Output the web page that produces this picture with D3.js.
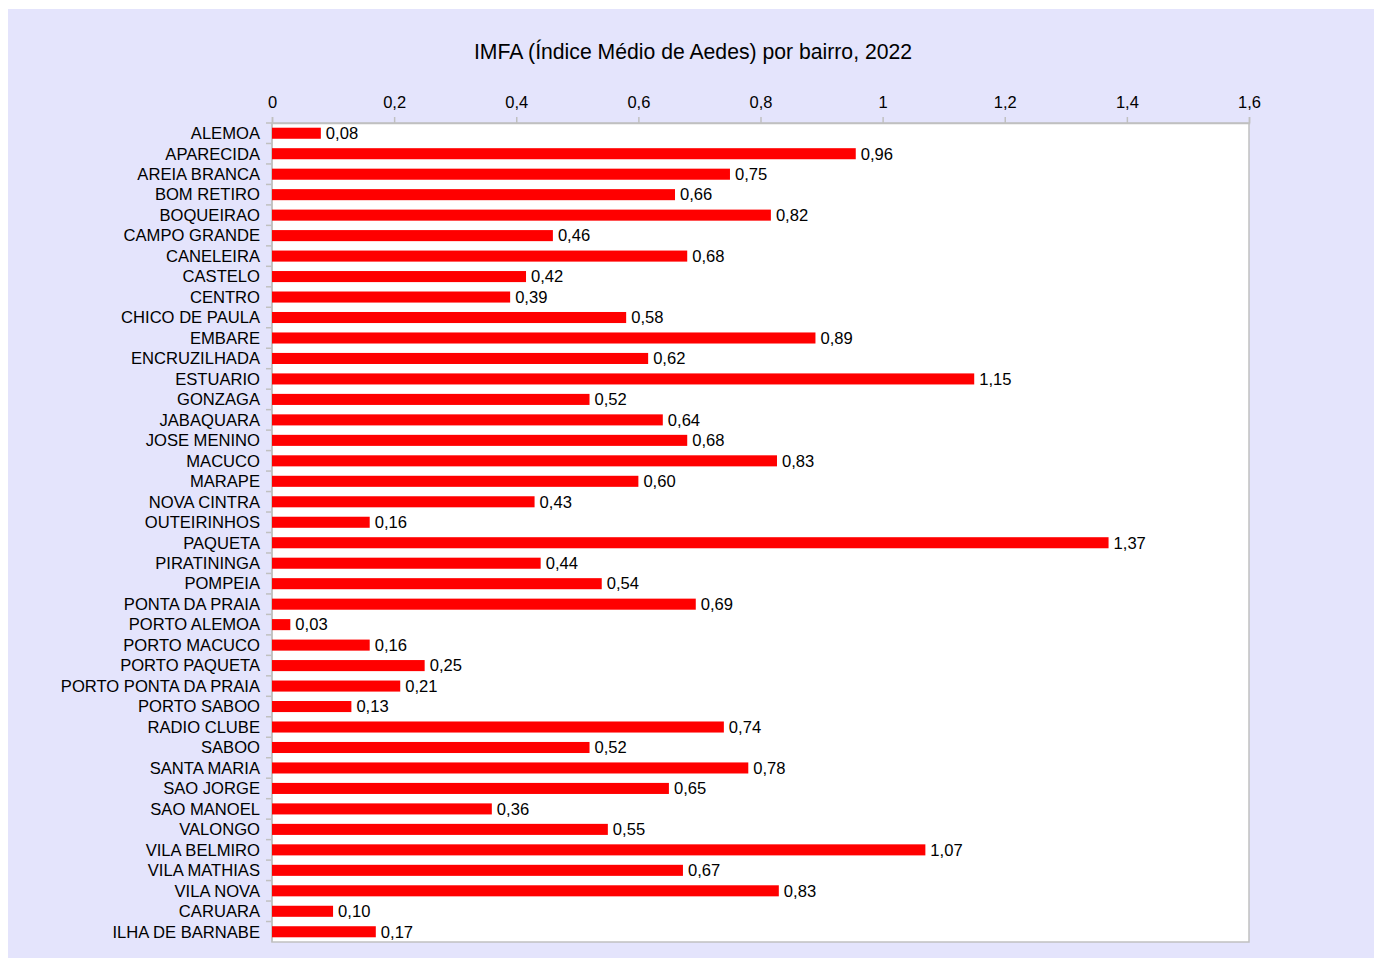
<!DOCTYPE html>
<html>
<head>
<meta charset="utf-8">
<script src="https://cdn.jsdelivr.net/npm/d3@7"></script>
<style>
  body { margin: 0; background: #ffffff; }
  svg { display: block; }
  text { font-family: "Liberation Sans", Arial, sans-serif; fill: #000; }
</style>
</head>
<body>
<div id="chart"></div>
<script>
const bairros = [
  "ALEMOA", "APARECIDA", "AREIA BRANCA", "BOM RETIRO", "BOQUEIRAO",
  "CAMPO GRANDE", "CANELEIRA", "CASTELO", "CENTRO", "CHICO DE PAULA",
  "EMBARE", "ENCRUZILHADA", "ESTUARIO", "GONZAGA", "JABAQUARA",
  "JOSE MENINO", "MACUCO", "MARAPE", "NOVA CINTRA", "OUTEIRINHOS",
  "PAQUETA", "PIRATININGA", "POMPEIA", "PONTA DA PRAIA", "PORTO ALEMOA",
  "PORTO MACUCO", "PORTO PAQUETA", "PORTO PONTA DA PRAIA", "PORTO SABOO", "RADIO CLUBE",
  "SABOO", "SANTA MARIA", "SAO JORGE", "SAO MANOEL", "VALONGO",
  "VILA BELMIRO", "VILA MATHIAS", "VILA NOVA", "CARUARA", "ILHA DE BARNABE"
];
const imfa = [
  0.08, 0.956, 0.75, 0.66, 0.817,
  0.46, 0.68, 0.416, 0.39, 0.58,
  0.89, 0.616, 1.15, 0.52, 0.64,
  0.68, 0.827, 0.60, 0.43, 0.16,
  1.37, 0.44, 0.54, 0.694, 0.03,
  0.16, 0.25, 0.21, 0.13, 0.74,
  0.52, 0.78, 0.65, 0.36, 0.55,
  1.07, 0.673, 0.83, 0.10, 0.17
];
const xTicks = [0, 0.2, 0.4, 0.6, 0.8, 1, 1.2, 1.4, 1.6];
const titulo = "IMFA (Índice Médio de Aedes) por bairro, 2022";

const data = bairros.map((b, i) => ({ bairro: b, valor: imfa[i] }));

const width = 1374, height = 958;
const margin = { top: 123, right: 125, bottom: 16, left: 272 };

const svg = d3.select("#chart").append("svg")
  .attr("width", width)
  .attr("height", height);

// lavender background
svg.append("rect")
  .attr("x", 8).attr("y", 9)
  .attr("width", width - 8).attr("height", height - 9)
  .attr("fill", "#e4e4fc");

const x = d3.scaleLinear()
  .domain([0, 1.6])
  .range([margin.left, width - margin.right]);

const y = d3.scaleBand()
  .domain(bairros)
  .range([margin.top, height - margin.bottom])
  .paddingInner(0.46)
  .paddingOuter(0.23);

const comma = (v) => String(v).replace(".", ",");
const fmt2 = (v) => v.toFixed(2).replace(".", ",");

// plot area
svg.append("rect")
  .attr("x", x(0))
  .attr("y", margin.top)
  .attr("width", x(1.6) - x(0))
  .attr("height", height - margin.bottom - margin.top)
  .attr("fill", "#ffffff")
  .attr("stroke", "#c0c0c0")
  .attr("stroke-width", 1.5);

// top axis
const xAxis = svg.append("g")
  .attr("transform", `translate(0, ${margin.top})`)
  .call(d3.axisTop(x).tickValues(xTicks).tickFormat(comma).tickSize(6).tickPadding(9));
xAxis.select(".domain").attr("stroke", "#c0c0c0").attr("stroke-width", 1.5);
xAxis.selectAll(".tick line").attr("stroke", "#c0c0c0").attr("stroke-width", 1.5);
xAxis.selectAll(".tick text")
  .style("font-size", "16.5px")
  .style("font-family", "'Liberation Sans', Arial, sans-serif")
  .attr("fill", "#000");

// left axis ticks at category boundaries
const step = y.step();
const boundaries = d3.range(bairros.length).map((i) => margin.top + i * step);
svg.append("g").selectAll("line")
  .data(boundaries)
  .join("line")
  .attr("x1", x(0) - 6).attr("x2", x(0))
  .attr("y1", (d) => d).attr("y2", (d) => d)
  .attr("stroke", "#c0c0c0")
  .attr("stroke-width", 1.5);
svg.append("line")
  .attr("x1", x(0)).attr("x2", x(0))
  .attr("y1", margin.top).attr("y2", height - margin.bottom)
  .attr("stroke", "#c0c0c0")
  .attr("stroke-width", 1.5);

// category labels
svg.append("g").selectAll("text")
  .data(data)
  .join("text")
  .attr("x", x(0) - 12)
  .attr("y", (d) => y(d.bairro) + y.bandwidth() / 2)
  .attr("dy", "0.35em")
  .attr("text-anchor", "end")
  .style("font-size", "16.6px")
  .text((d) => d.bairro);

// bars
svg.append("g").selectAll("rect")
  .data(data)
  .join("rect")
  .attr("x", x(0))
  .attr("y", (d) => y(d.bairro))
  .attr("width", (d) => x(d.valor) - x(0))
  .attr("height", y.bandwidth())
  .attr("fill", "#ff0000");

// value labels
svg.append("g").selectAll("text")
  .data(data)
  .join("text")
  .attr("x", (d) => x(d.valor) + 5)
  .attr("y", (d) => y(d.bairro) + y.bandwidth() / 2)
  .attr("dy", "0.35em")
  .style("font-size", "16.6px")
  .text((d) => fmt2(d.valor));

// title
svg.append("text")
  .attr("x", 693)
  .attr("y", 59)
  .attr("text-anchor", "middle")
  .style("font-size", "21.2px")
  .text(titulo);
</script>
</body>
</html>
